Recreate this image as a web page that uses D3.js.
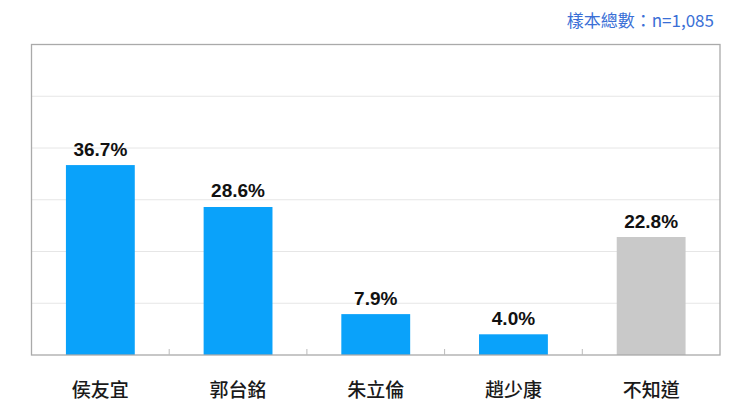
<!DOCTYPE html>
<html>
<head>
<meta charset="utf-8">
<script src="https://cdn.jsdelivr.net/npm/d3@7"></script>
<style>
  body { margin: 0; background: #fff; }
  svg { display: block; }
</style>
</head>
<body>
<script>
// data
var categories = ["侯友宜", "郭台銘", "朱立倫", "趙少康", "不知道"];
var values = [36.7, 28.6, 7.9, 4.0, 22.8];
var barColors = ["#0aa2fa", "#0aa2fa", "#0aa2fa", "#0aa2fa", "#c9c9c9"];
var yTicks = [0, 10, 20, 30, 40, 50, 60];
var sampleNote = "樣本總數：n=1,085";

var width = 750, height = 413;
var margin = {top: 44.5, right: 30, bottom: 58, left: 31.5};

var svg = d3.select("body").append("svg")
    .attr("width", width)
    .attr("height", height);

var x = d3.scaleBand()
    .domain(categories)
    .range([margin.left, width - margin.right])
    .paddingInner(0.5)
    .paddingOuter(0.25);

var y = d3.scaleLinear()
    .domain([0, 60])
    .range([height - margin.bottom, margin.top]);

// gridlines
svg.append("g")
    .selectAll("line")
    .data(yTicks.slice(1, -1))
    .enter().append("line")
    .attr("x1", margin.left)
    .attr("x2", width - margin.right)
    .attr("y1", function(d) { return y(d); })
    .attr("y2", function(d) { return y(d); })
    .attr("stroke", "#e6e6e6")
    .attr("stroke-width", 1);

// bars
svg.append("g")
    .selectAll("rect")
    .data(values)
    .enter().append("rect")
    .attr("x", function(d, i) { return x(categories[i]); })
    .attr("y", function(d) { return y(d); })
    .attr("width", x.bandwidth())
    .attr("height", function(d) { return y(0) - y(d); })
    .attr("fill", function(d, i) { return barColors[i]; });

// frame
svg.append("rect")
    .attr("x", margin.left)
    .attr("y", margin.top)
    .attr("width", width - margin.right - margin.left)
    .attr("height", y(0) - margin.top)
    .attr("fill", "none")
    .attr("stroke", "#aaaaaa")
    .attr("stroke-width", 1.3);

// category boundary ticks on baseline
svg.append("g")
    .selectAll("line")
    .data(categories.slice(1))
    .enter().append("line")
    .attr("x1", function(d) { return x(d) - x.bandwidth() * 0.5; })
    .attr("x2", function(d) { return x(d) - x.bandwidth() * 0.5; })
    .attr("y1", y(0))
    .attr("y2", y(0) - 6)
    .attr("stroke", "#bbbbbb")
    .attr("stroke-width", 1);

// value labels
svg.append("g")
    .selectAll("text")
    .data(values)
    .enter().append("text")
    .attr("x", function(d, i) { return x(categories[i]) + x.bandwidth() / 2; })
    .attr("y", function(d) { return y(d) - 9.5; })
    .attr("text-anchor", "middle")
    .attr("font-family", "Liberation Sans, Arial, sans-serif")
    .attr("font-weight", "bold")
    .attr("font-size", 19)
    .attr("fill", "#111")
    .text(function(d) { return d.toFixed(1) + "%"; });

// category labels
svg.append("g")
    .selectAll("text")
    .data(categories)
    .enter().append("text")
    .attr("x", function(d) { return x(d) + x.bandwidth() / 2; })
    .attr("y", 397)
    .attr("text-anchor", "middle")
    .attr("font-family", "Noto Sans CJK TC, sans-serif")
    .attr("font-weight", 500)
    .attr("font-size", 19)
    .attr("fill", "#1a1a1a")
    .text(function(d) { return d; });

// sample size note
svg.append("text")
    .attr("x", 714)
    .attr("y", 26.5)
    .attr("text-anchor", "end")
    .attr("font-family", "Noto Sans CJK TC, sans-serif")
    .attr("font-size", 17)
    .attr("fill", "#3a6fd6")
    .text(sampleNote);
</script>
</body>
</html>
